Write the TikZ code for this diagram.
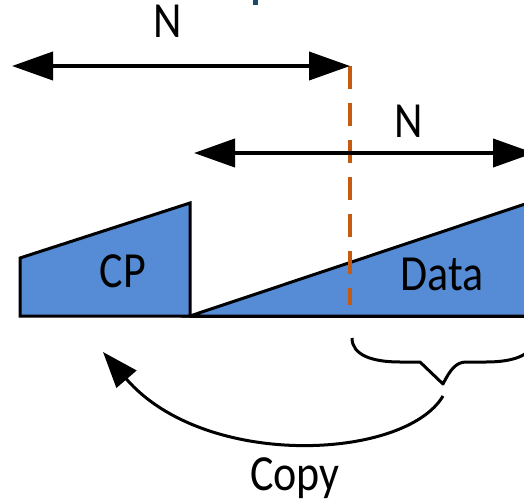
\documentclass[tikz,border=0pt]{standalone}
\usepackage{fontspec}
\setmainfont{Carlito}
\usetikzlibrary{arrows.meta}
\definecolor{slotblue}{RGB}{85,140,213}
\definecolor{markbrown}{RGB}{197,90,17}
\definecolor{headteal}{RGB}{23,75,105}
\tikzset{
  lbl/.style={font=\fontsize{44}{48}\selectfont, inner sep=0pt, anchor=base, yscale=1.15},
  span/.style={line width=4pt, {Triangle[length=41pt,width=28pt]}-{Triangle[length=41pt,width=28pt]}},
  slot/.style={fill=slotblue, draw=black, line width=3pt, line join=miter},
  guide/.style={draw=markbrown, line width=3.2pt, dash pattern=on 23pt off 14pt},
  bracepath/.style={draw=black, line width=3pt, line join=round},
  copyarrow/.style={draw=black, line width=3pt, -{Triangle[length=36pt,width=26pt]}}
}
\begin{document}
\begin{tikzpicture}[x=1pt, y=-1pt]
\useasboundingbox (0,0) rectangle (524,500);
\clip (0,0) rectangle (524,500);

% fragment of a heading cut by the top edge
\fill[headteal] (253,0) rectangle (258,5);

% key points
\coordinate (a1l) at (12,66);
\coordinate (a1r) at (350,66);
\coordinate (a2l) at (194,153);
\coordinate (a2r) at (534,153);
\coordinate (gtop) at (350,66);
\coordinate (gbot) at (350,305);
\coordinate (cstart) at (443,396);
\coordinate (ctip) at (103,352);

% cyclic prefix and data blocks
\path[slot] (20,316) -- (20,258) -- (190,203) -- (190,316) -- cycle;
\path[slot] (190,316) -- (540,199) -- (540,316) -- cycle;
\draw[line width=3pt] (190,316) -- (540,316);

% boundary guide
\draw[guide] (gtop) -- (gbot);

% span arrows
\draw[span] (a1l) -- (a1r);
\draw[span] (a2l) -- (a2r);

% labels
\node[lbl, transform shape] (N1) at (168,38) {N};
\node[lbl, transform shape] (N2) at (409,137) {N};
\node[lbl, transform shape] (CP) at (123,287) {CP};
\node[lbl, transform shape] (Data) at (442,290) {Data};
\node[lbl, transform shape] (Copy) at (295,490) {Copy};

% brace under the copied tail
\draw[bracepath] (352,338) .. controls (352,355) and (372,362) .. (400,362)
  -- (420,362) -- (443,384)
  .. controls (450,370) and (456,362) .. (466,362)
  -- (486,362) .. controls (514,362) and (534,355) .. (534,338);

% copy arrow
\draw[copyarrow] (cstart) .. controls (405,460) and (205,470) .. (ctip);
\end{tikzpicture}
\end{document}
